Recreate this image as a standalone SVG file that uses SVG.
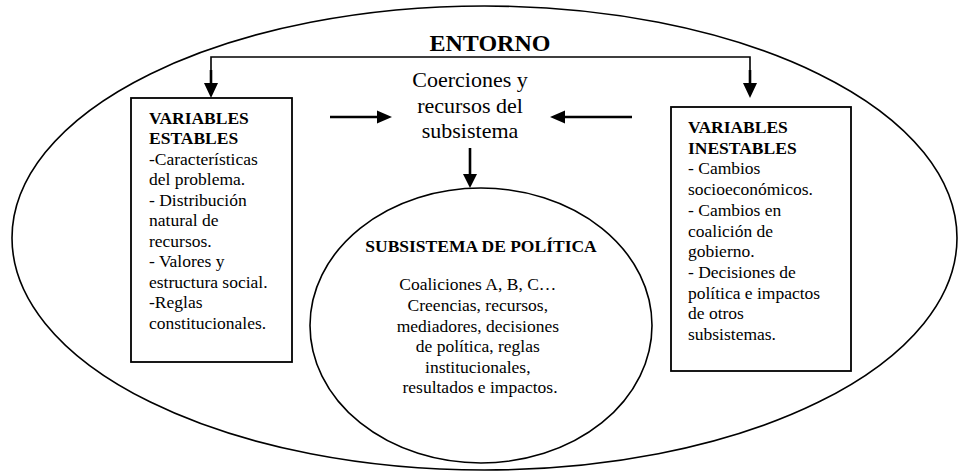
<svg xmlns="http://www.w3.org/2000/svg" width="959" height="472" viewBox="0 0 959 472">
<style>
  .shape { fill: #ffffff; stroke: #000000; stroke-width: 1.6; }
  .box { fill: #ffffff; stroke: #000000; stroke-width: 1.8; }
  text { font-family: 'Liberation Serif', 'DejaVu Serif', serif; fill: #000000; }
  .b { font-weight: bold; }
  .s17 { font-size: 17.5px; }
  .mid { text-anchor: middle; }
  .line { fill: none; stroke: #000000; stroke-width: 1.6; }
  .shaft { fill: none; stroke: #000000; stroke-width: 2.6; }
  .head { fill: #000000; stroke: none; }
</style>
<rect width="959" height="472" fill="#ffffff"/>
<g id="entorno" font-family="Liberation Serif, serif">
  <ellipse class="shape" cx="484.5" cy="238" rx="472.5" ry="232"/>
  <text class="b mid" x="490" y="51" font-size="24" font-family="Liberation Serif, serif">ENTORNO</text>
</g>
<g id="coerciones" font-family="Liberation Serif, serif">
  <text class="mid" font-size="22" x="470" y="87" font-family="Liberation Serif, serif">Coerciones y</text>
  <text class="mid" font-size="22" x="470" y="113" font-family="Liberation Serif, serif">recursos del</text>
  <text class="mid" font-size="22" x="470" y="138" font-family="Liberation Serif, serif">subsistema</text>
</g>
<g id="variables-estables">
  <rect class="box" x="131" y="98" width="161" height="264"/>
  <text class="s17" x="149" font-family="Liberation Serif, serif">
    <tspan class="b" x="149" y="123.5">VARIABLES</tspan>
    <tspan class="b" x="149" y="144">ESTABLES</tspan>
    <tspan x="149" y="164.5">-Características</tspan>
    <tspan x="149" y="185">del problema.</tspan>
    <tspan x="149" y="205.5">- Distribución</tspan>
    <tspan x="149" y="226">natural de</tspan>
    <tspan x="149" y="246.5">recursos.</tspan>
    <tspan x="149" y="267">- Valores y</tspan>
    <tspan x="149" y="287.5">estructura social.</tspan>
    <tspan x="149" y="308">-Reglas</tspan>
    <tspan x="149" y="328.5">constitucionales.</tspan>
  </text>
</g>
<g id="variables-inestables">
  <rect class="box" x="671" y="107" width="180" height="264"/>
  <text class="s17" x="688" font-family="Liberation Serif, serif">
    <tspan class="b" x="688" y="133">VARIABLES</tspan>
    <tspan class="b" x="688" y="153.7">INESTABLES</tspan>
    <tspan x="688" y="174.4">- Cambios</tspan>
    <tspan x="688" y="195.1">socioeconómicos.</tspan>
    <tspan x="688" y="215.8">- Cambios en</tspan>
    <tspan x="688" y="236.5">coalición de</tspan>
    <tspan x="688" y="257.2">gobierno.</tspan>
    <tspan x="688" y="277.9">- Decisiones de</tspan>
    <tspan x="688" y="298.6">política e impactos</tspan>
    <tspan x="688" y="319.3">de otros</tspan>
    <tspan x="688" y="340">subsistemas.</tspan>
  </text>
</g>
<g id="subsistema">
  <ellipse class="shape" cx="481" cy="325.5" rx="171" ry="137.5"/>
  <text class="b s17 mid" x="481" y="252" font-family="Liberation Serif, serif">SUBSISTEMA DE POLÍTICA</text>
  <text class="s17 mid" font-family="Liberation Serif, serif">
    <tspan x="480" y="290">Coaliciones A, B, C…</tspan>
    <tspan x="480" y="311">Creencias, recursos,</tspan>
    <tspan x="480" y="331.5">mediadores, decisiones</tspan>
    <tspan x="480" y="352">de política, reglas</tspan>
    <tspan x="480" y="372.5">institucionales,</tspan>
    <tspan x="480" y="393">resultados e impactos.</tspan>
  </text>
</g>
<g id="connectors">
  <polyline class="line" points="211,84 211,57 750,57 750,84"/>
  <line class="shaft" x1="211" y1="70" x2="211" y2="85"/>
  <polygon class="head" points="204,83 218,83 211,98"/>
  <line class="shaft" x1="750" y1="70" x2="750" y2="85"/>
  <polygon class="head" points="743,83 757,83 750,98"/>
  <line class="shaft" x1="330" y1="117" x2="379" y2="117"/>
  <polygon class="head" points="377,110.5 377,123.5 392,117"/>
  <line class="shaft" x1="632" y1="117" x2="563" y2="117"/>
  <polygon class="head" points="565,110.5 565,123.5 550,117"/>
  <line class="shaft" x1="470" y1="148" x2="470" y2="176"/>
  <polygon class="head" points="463,174 477,174 470,188"/>
</g>
</svg>
